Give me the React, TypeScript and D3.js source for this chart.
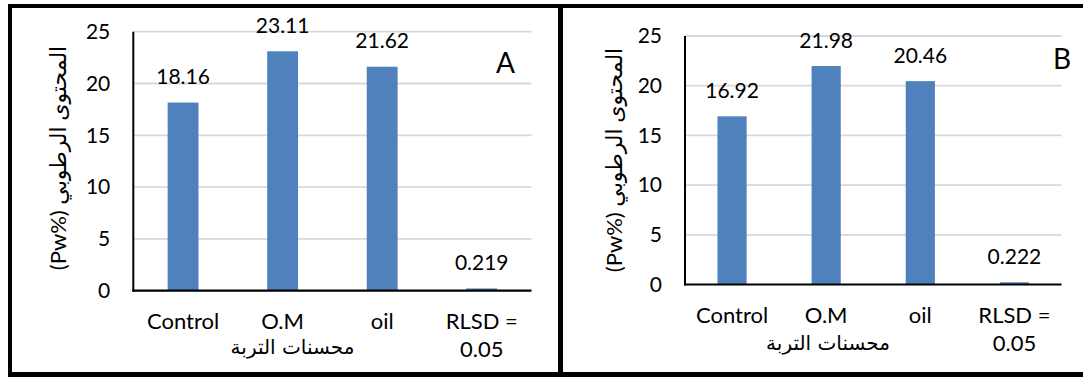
import React from "react";
import * as d3 from "d3";

const categoryLines: string[][] = [["Control"], ["O.M"], ["oil"], ["RLSD =", "0.05"]];
const categoryKeys = ["Control", "O.M", "oil", "RLSD"];
const valuesA = [18.16, 23.11, 21.62, 0.219];
const valuesB = [16.92, 21.98, 20.46, 0.222];
const yTicks = [0, 5, 10, 15, 20, 25];
const yTitle = "(Pw%) المحتوى الرطوبي";
const xTitle = "محسنات التربة";

const LATIN = "Lato, 'Open Sans', sans-serif";
const MIXED = "Lato, 'DejaVu Sans', sans-serif";
const ARABIC = "'DejaVu Sans', sans-serif";
const BAR = "#4f81bd";
const GRID = "#d9d9d9";

type PanelCfg = {
  values: number[];
  letter: string;
  x0: number;
  x1: number;
  yZero: number;
  yTop: number;
  yTitleX: number;
  yTitleY: number;
  xTitleX: number;
  xTitleY: number;
  letterX: number;
  letterY: number;
  catY: number;
};

function Panel({ cfg }: { cfg: PanelCfg }) {
  const x = d3
    .scaleBand<string>()
    .domain(categoryKeys)
    .range([cfg.x0, cfg.x1])
    .paddingInner(0.69)
    .paddingOuter(0.345);
  const y = d3.scaleLinear().domain([0, 25]).range([cfg.yZero, cfg.yTop]);
  return (
    <g>
      {yTicks.map((t) =>
        t === 0 ? null : (
          <line key={"g" + t} x1={cfg.x0} x2={cfg.x1} y1={y(t)} y2={y(t)} stroke={GRID} strokeWidth={1.8} />
        )
      )}
      {yTicks.map((t) => (
        <text
          key={"t" + t}
          x={cfg.x0 - 23}
          y={y(t)}
          dy="0.35em"
          textAnchor="end"
          fontFamily={LATIN}
          fontSize={21}
          fill="#000"
        >
          {t}
        </text>
      ))}
      {cfg.values.map((v, i) => (
        <rect
          key={"b" + i}
          x={x(categoryKeys[i])!}
          y={y(v)}
          width={x.bandwidth()}
          height={y(0) - y(v)}
          fill={BAR}
        />
      ))}
      {cfg.values.map((v, i) => (
        <text
          key={"v" + i}
          x={x(categoryKeys[i])! + x.bandwidth() / 2}
          y={y(v) - 18.5}
          textAnchor="middle"
          fontFamily={LATIN}
          fontSize={21}
          fill="#000"
        >
          {String(v)}
        </text>
      ))}
      <line x1={cfg.x0} x2={cfg.x0} y1={cfg.yTop} y2={cfg.yZero + 1} stroke="#000" strokeWidth={2} />
      <line x1={cfg.x0 - 1} x2={cfg.x1} y1={cfg.yZero} y2={cfg.yZero} stroke="#000" strokeWidth={2.2} />
      {categoryLines.map((lines, i) => (
        <text
          key={"c" + i}
          x={x(categoryKeys[i])! + x.bandwidth() / 2}
          y={cfg.catY}
          textAnchor="middle"
          fontFamily={LATIN}
          fontSize={22}
          fill="#000"
        >
          {lines.map((l, j) => (
            <tspan key={j} x={x(categoryKeys[i])! + x.bandwidth() / 2} dy={j === 0 ? 0 : 28}>
              {l}
            </tspan>
          ))}
        </text>
      ))}
      <text
        transform={`translate(${cfg.yTitleX},${cfg.yTitleY}) rotate(-90)`}
        textAnchor="middle"
        fontFamily={MIXED}
        fontSize={22}
        fill="#000"
      >
        {yTitle}
      </text>
      <text
        x={cfg.xTitleX}
        y={cfg.xTitleY}
        textAnchor="middle"
        fontFamily={ARABIC}
        fontSize={20}
        fill="#000"
      >
        {xTitle}
      </text>
      <text x={cfg.letterX} y={cfg.letterY} textAnchor="middle" fontFamily={LATIN} fontSize={28} fill="#000">
        {cfg.letter}
      </text>
    </g>
  );
}

const panelA: PanelCfg = {
  values: valuesA,
  letter: "A",
  x0: 133.3,
  x1: 531.5,
  yZero: 290.7,
  yTop: 31.7,
  yTitleX: 66,
  yTitleY: 158,
  xTitleX: 292.5,
  xTitleY: 354,
  letterX: 505.5,
  letterY: 73.3,
  catY: 329,
};

const panelB: PanelCfg = {
  values: valuesB,
  letter: "B",
  x0: 685,
  x1: 1061.5,
  yZero: 284.5,
  yTop: 36,
  yTitleX: 622,
  yTitleY: 160,
  xTitleX: 828,
  xTitleY: 349.5,
  letterX: 1062,
  letterY: 68.5,
  catY: 322.5,
};

export default function App() {
  return (
    <svg
      width={1083}
      height={378}
      style={{ position: "absolute", left: 0, top: 0, background: "#fff" }}
    >
      <rect x={0} y={0} width={1083} height={378} fill="#fff" />
      <Panel cfg={panelA} />
      <Panel cfg={panelB} />
      <rect x={8} y={4} width={1075} height={4} fill="#000" />
      <rect x={8} y={4} width={4} height={373} fill="#000" />
      <rect x={8} y={372} width={1075} height={5} fill="#000" />
      <rect x={558} y={4} width={5} height={373} fill="#000" />
    </svg>
  );
}
